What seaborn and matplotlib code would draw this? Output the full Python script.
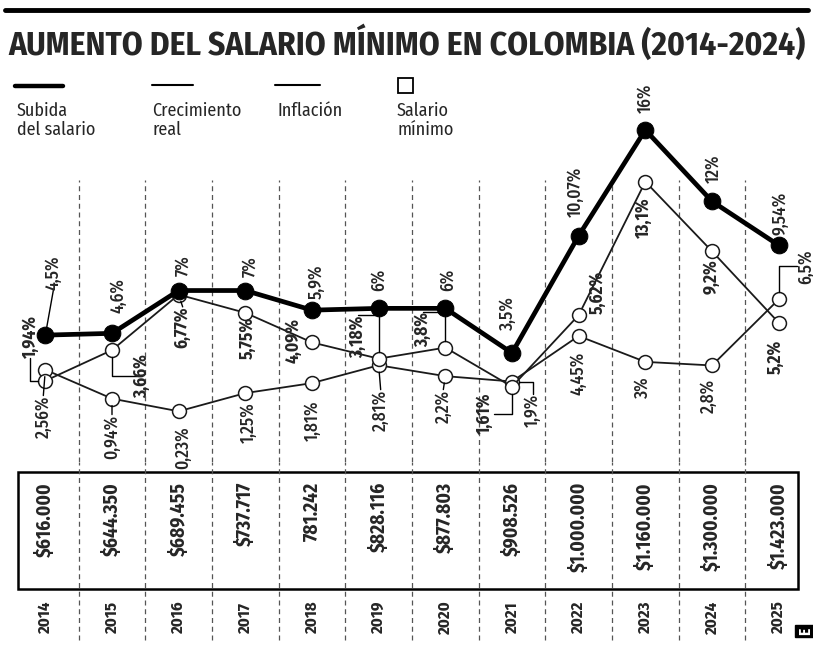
import pandas as pd
import seaborn as sns
from matplotlib import pyplot as plt
from matplotlib import font_manager
from matplotlib.lines import Line2D
from matplotlib.patches import Rectangle

# data
years = list(range(2014, 2026))
subida = [4.5, 4.6, 7, 7, 5.9, 6, 6, 3.5, 10.07, 16, 12, 9.54]
inflacion = [1.94, 3.66, 6.77, 5.75, 4.09, 3.18, 3.8, 1.61, 5.62, 13.1, 9.2, 5.2]
crecimiento = [2.56, 0.94, 0.23, 1.25, 1.81, 2.81, 2.2, 1.9, 4.45, 3, 2.8, 6.5]
salario = ["$616.000", "$644.350", "$689.455", "$737.717", "781.242", "$828.116",
           "$877.803", "$908.526", "$1.000.000", "$1.160.000", "$1.300.000", "$1.423.000"]


def pct(v):
    return f"{v:g}".replace(".", ",") + "%"


W, H = 813, 649
Y0, PX = 415.4, 17.84  # pixel row of 0 % and pixels per percentage point


def fx(px):
    return px / W


def fy(py):
    return 1 - py / H


sns.set_theme(style="white")
# condensed news-style font if there is one, else DejaVu condensed
fams = {f.name for f in font_manager.fontManager.ttflist}
FONT = next((f for f in ["Fira Sans Condensed", "PT Sans Narrow", "Asap Condensed",
                         "Barlow Condensed"] if f in fams), "DejaVu Sans")
plt.rcParams["font.family"] = [FONT, "DejaVu Sans"]
plt.rcParams["font.stretch"] = "condensed"

fig = plt.figure(figsize=(W / 100, H / 100), dpi=100)

# line chart
ax = fig.add_axes([fx(12), fy(462), 800 / W, (462 - 70) / H])
df = pd.DataFrame({"idx": range(len(years)), "subida": subida,
                   "inflacion": inflacion, "crecimiento": crecimiento})
sns.lineplot(data=df, x="idx", y="crecimiento", ax=ax, color="#1a1a1a", lw=1.3,
             marker="o", ms=10, mfc="white", mec="#1a1a1a", mew=1.1, zorder=2)
sns.lineplot(data=df, x="idx", y="inflacion", ax=ax, color="#1a1a1a", lw=1.3,
             marker="o", ms=10, mfc="white", mec="#1a1a1a", mew=1.1, zorder=2.5)
sns.lineplot(data=df, x="idx", y="subida", ax=ax, color="black", lw=3.4,
             marker="o", ms=12, mfc="black", mec="black", zorder=4)
ax.set_xlim(-0.5, 11.5)
ax.set_ylim((Y0 - 462) / PX, (Y0 - 70) / PX)
ax.axis("off")

for i in range(11):
    ax.axvline(i + 0.5, ymin=0, ymax=(462 - 180) / 392, color="#555", lw=0.9,
               ls=(0, (4, 3)), zorder=1)

# label offsets in pixels (centre of text relative to the point)
sub_off = [(8, 62), (6, 38), (5, 25), (5, 24), (5, 28), (0, 28), (2, 28),
           (-4, 40), (-3, 44), (0, 32), (1, 33), (2, 32)]
inf_off = [(-15, 44), (30, -26), (4, -33), (2, -25), (-19, 2), (-21, 22), (-22, 18),
           (-27, -27), (19, 23), (-2, -36), (-1, -25), (-3, -34)]
cre_off = [(-2, -47), (0, -38), (4, -36), (3, -30), (1, -38), (2, -45), (-2, -30),
           (21, -29), (0, -37), (-3, -25), (-3, -30), (27, 33)]

straight = dict(arrowstyle="-", color="black", lw=1, patchA=None, shrinkA=0, shrinkB=5)


def leader(relpos, style=None):
    d = dict(straight, relpos=relpos)
    if style:
        d["connectionstyle"] = style
    return d


sub_lead = {0: leader((0.5, 0))}
inf_lead = {0: leader((0.5, 0), "angle,angleA=90,angleB=0"),
            1: leader((0.5, 0.5), "angle,angleA=0,angleB=90"),
            2: leader((0.5, 1)),
            5: leader((0.5, 1), "angle,angleA=0,angleB=90"),
            6: leader((0.5, 1), "angle,angleA=0,angleB=90"),
            7: leader((1, 0.5), "angle,angleA=0,angleB=90")}
cre_lead = {0: leader((0.5, 1)), 1: leader((0.5, 1)), 5: leader((0.5, 1)),
            6: leader((0.5, 1)),
            7: leader((0.5, 1), "angle,angleA=90,angleB=0"),
            11: leader((0, 0.5), "angle,angleA=0,angleB=90")}

for vals, offs, leads, weight in [(subida, sub_off, sub_lead, "medium"),
                                   (inflacion, inf_off, inf_lead, "bold"),
                                   (crecimiento, cre_off, cre_lead, "medium")]:
    for i, v in enumerate(vals):
        ax.annotate(pct(v), (i, v), xytext=offs[i], textcoords="offset pixels",
                    rotation=90, ha="center", va="center", fontsize=12.5,
                    fontweight=weight, arrowprops=leads.get(i), zorder=5,
                    annotation_clip=False)

# table of salaries and years
tab = fig.add_axes([fx(12), 0, 800 / W, (H - 462) / H])
tab.set_xlim(-0.5, 11.5)
tab.set_ylim(1, 0)
tab.axis("off")
tab.add_patch(Rectangle((-0.41, 0.053), 11.7, 0.626, fill=False, ec="black", lw=1.8))
for i in range(11):
    tab.axvline(i + 0.5, ymin=0.05, ymax=1, color="#555", lw=0.9, ls=(0, (4, 3)), zorder=1)
for i, (s, y) in enumerate(zip(salario, years)):
    tab.text(i, 0.107, s, rotation=90, ha="center", va="top", fontsize=14,
             fontweight="bold")
    tab.text(i, 0.829, str(y), rotation=90, ha="center", va="center", fontsize=12,
             fontweight="bold")

# top rule and title
fig.add_artist(Line2D([fx(5), fx(808)], [fy(10), fy(10)], color="black", lw=3.5))
title = fig.text(fx(8), fy(55), "AUMENTO DEL SALARIO MÍNIMO EN COLOMBIA (2014-2024)",
                 fontsize=20, fontweight="bold", ha="left", va="baseline")
fig.canvas.draw()
title.set_fontsize(20 * 797 / title.get_window_extent().width)

# legend
fig.add_artist(Line2D([fx(15), fx(63)], [fy(86), fy(86)], color="black", lw=3.2))
fig.add_artist(Line2D([fx(152), fx(193)], [fy(85), fy(85)], color="black", lw=1.5))
fig.add_artist(Line2D([fx(275), fx(320)], [fy(85), fy(85)], color="black", lw=1.5))
fig.add_artist(Rectangle((fx(398), fy(93)), 15 / W, 15 / H, fill=False, ec="black", lw=1.3))
for x, t in [(17, "Subida\ndel salario"), (152, "Crecimiento\nreal"),
             (277, "Inflación"), (397, "Salario\nmínimo")]:
    fig.text(fx(x), fy(102), t, ha="left", va="top", fontsize=13, linespacing=1.1)

fig.text(fx(805), fy(631), "E", rotation=90, ha="center", va="center", color="white",
         fontsize=11, fontweight="bold",
         bbox=dict(boxstyle="square,pad=0.15", fc="black", ec="black"))

fig.savefig("out.png", dpi=100, facecolor="white")
